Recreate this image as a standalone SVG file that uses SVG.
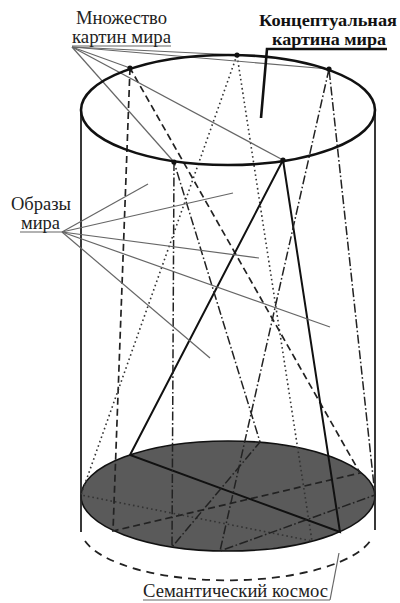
<svg xmlns="http://www.w3.org/2000/svg" width="400" height="603" viewBox="0 0 400 603">
  <style>
    text { font-family: "Liberation Serif", "Times New Roman", serif; font-size: 18px; fill: #222; }
    .bold { font-weight: bold; font-size: 17px; fill: #111; }
    .lead { stroke: #666; stroke-width: 1.2; fill: none; }
    .rim { stroke: #111; stroke-width: 2.6; fill: none; }
    .side { stroke: #222; stroke-width: 1.8; fill: none; }
    .dash { stroke: #222; stroke-width: 1.7; fill: none; stroke-dasharray: 7 4; }
    .dot { stroke: #333; stroke-width: 1.6; fill: none; stroke-dasharray: 1.6 3; }
    .dd { stroke: #222; stroke-width: 1.5; fill: none; stroke-dasharray: 9 2.5 1.6 2.5; }
    .solid { stroke: #111; stroke-width: 2; fill: none; }
    .pt { fill: #111; }
  </style>

  <!-- cylinder body -->
  <g id="cylinder">
    <ellipse cx="228" cy="496" rx="147" ry="55" fill="#5a5a5a" stroke="#111" stroke-width="1.6"/>
    <path d="M 85 541 A 147 52 0 0 0 372 538" stroke="#222" stroke-width="1.8" fill="none" stroke-dasharray="8 6"/>
    <line class="side" x1="81" y1="110" x2="81" y2="532"/>
    <line class="side" x1="375" y1="110" x2="375" y2="530"/>
  </g>

  <!-- projections from the top ring to the base -->
  <g id="connectors">
    <polyline class="dash" points="130,68 113,531 360,473 130,68"/>
    <polyline class="dot" points="237,55 81,495 312,541 237,55"/>
    <polyline class="solid" points="283,160 130,455 340,532 283,160"/>
    <polyline class="dd" points="329,69 220,551 375,495 329,69"/>
    <polyline class="dd" points="174,162 172,547 260,442 174,162"/>

    <!-- leaders: set of world pictures -->
    <line class="lead" x1="72" y1="46" x2="171" y2="46"/>
    <line class="lead" x1="72" y1="47" x2="130" y2="68"/>
    <line class="lead" x1="72" y1="47" x2="237" y2="55"/>
    <line class="lead" x1="72" y1="47" x2="329" y2="69"/>
    <line class="lead" x1="72" y1="47" x2="174" y2="162"/>
    <line class="lead" x1="72" y1="47" x2="283" y2="160"/>

    <!-- leaders: world images -->
    <line class="lead" x1="20" y1="232" x2="62" y2="232"/>
    <line class="lead" x1="62" y1="232" x2="148" y2="184"/>
    <line class="lead" x1="62" y1="232" x2="233" y2="193"/>
    <line class="lead" x1="62" y1="232" x2="259" y2="258"/>
    <line class="lead" x1="62" y1="232" x2="330" y2="327"/>
    <line class="lead" x1="62" y1="232" x2="210" y2="358"/>

    <!-- leader: semantic cosmos -->
    <line class="lead" x1="143" y1="600" x2="330" y2="600"/>
    <line class="lead" x1="330" y1="600" x2="339" y2="553"/>

    <!-- leader: conceptual picture -->
    <polyline points="387,49 267,49 261,118" stroke="#111" stroke-width="2.6" fill="none"/>
  </g>

  <!-- top ring with picture points -->
  <g id="top-ring">
    <ellipse class="rim" cx="228" cy="110" rx="147" ry="55"/>
    <circle class="pt" cx="130" cy="68" r="2.6"/>
    <circle class="pt" cx="237" cy="55" r="2.6"/>
    <circle class="pt" cx="329" cy="69" r="2.6"/>
    <circle class="pt" cx="174" cy="162" r="2.6"/>
    <circle class="pt" cx="283" cy="160" r="2.6"/>
  </g>

  <g id="label-many">
    <text x="76" y="24" textLength="91" lengthAdjust="spacingAndGlyphs">Множество</text>
    <text x="72" y="43" textLength="99" lengthAdjust="spacingAndGlyphs">картин мира</text>
  </g>
  <g id="label-concept">
    <text class="bold" x="259" y="26" textLength="138" lengthAdjust="spacingAndGlyphs">Концептуальная</text>
    <text class="bold" x="272" y="45" textLength="114" lengthAdjust="spacingAndGlyphs">картина мира</text>
  </g>
  <g id="label-images">
    <text x="11" y="210" textLength="60" lengthAdjust="spacingAndGlyphs">Образы</text>
    <text x="21" y="229" textLength="39" lengthAdjust="spacingAndGlyphs">мира</text>
  </g>
  <g id="label-cosmos">
    <text x="143" y="597" textLength="185" lengthAdjust="spacingAndGlyphs">Семантический космос</text>
  </g>
</svg>
